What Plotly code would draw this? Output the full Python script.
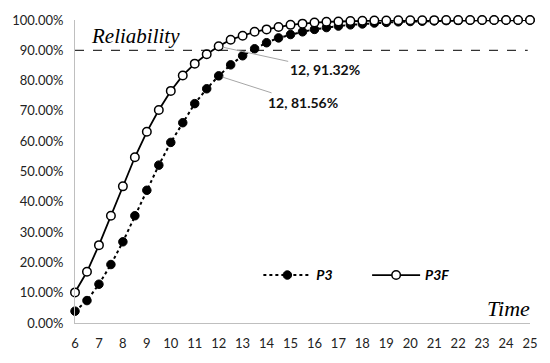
import plotly.graph_objects as go

time = [6, 6.5, 7, 7.5, 8, 8.5, 9, 9.5, 10, 10.5, 11, 11.5, 12, 12.5, 13, 13.5, 14, 14.5,
        15, 15.5, 16, 16.5, 17, 17.5, 18, 18.5, 19, 19.5, 20, 20.5, 21, 21.5, 22, 22.5,
        23, 23.5, 24, 24.5, 25]
p3 = [0.039, 0.074, 0.128, 0.193, 0.268, 0.354, 0.438, 0.521, 0.596, 0.661, 0.724, 0.773,
      0.8156, 0.852, 0.882, 0.905, 0.925, 0.941, 0.952, 0.961, 0.969, 0.975, 0.980, 0.984,
      0.987, 0.990, 0.992, 0.994, 0.995, 0.996, 0.997, 0.998, 0.9985, 0.999, 0.9992, 0.9994,
      0.9995, 0.9996, 0.9997]
p3f = [0.101, 0.169, 0.257, 0.354, 0.451, 0.547, 0.631, 0.703, 0.766, 0.817, 0.856, 0.887,
       0.9132, 0.935, 0.948, 0.961, 0.969, 0.977, 0.984, 0.988, 0.992, 0.994, 0.995, 0.9965,
       0.9975, 0.998, 0.9985, 0.999, 0.9992, 0.9994, 0.9995, 0.9996, 0.9997, 0.9998, 0.9998,
       0.9999, 0.9999, 0.9999, 1.0]
reliability = 0.9
x_ticks = list(range(6, 26))
y_ticks = [0, 0.1, 0.2, 0.3, 0.4, 0.5, 0.6, 0.7, 0.8, 0.9, 1.0]

fig = go.Figure()
fig.add_trace(go.Scatter(
    x=time, y=p3, name="<b><i>P3</i></b>", mode="lines+markers", cliponaxis=False,
    line=dict(color="black", width=2, dash="dot"),
    marker=dict(symbol="circle", size=8.5, color="black", line=dict(color="black", width=1)),
    legend="legend"))
fig.add_trace(go.Scatter(
    x=time, y=p3f, name="<b><i>P3F</i></b>", mode="lines+markers", cliponaxis=False,
    line=dict(color="black", width=1.8),
    marker=dict(symbol="circle", size=8.5, color="white", line=dict(color="black", width=1.5)),
    legend="legend2"))

fig.add_shape(type="line", xref="paper", yref="y", x0=0, x1=0.995, y0=reliability, y1=reliability,
              line=dict(color="black", width=1, dash="dash"))

fig.add_annotation(x=6.6, y=reliability, xref="x", yref="y", text="<i>Reliability</i>",
                   showarrow=False, xanchor="left", yanchor="bottom",
                   font=dict(family="Liberation Serif", size=21, color="black"))
fig.add_annotation(x=1.004, y=0.0, xref="paper", yref="paper", text="<i>Time</i>",
                   showarrow=False, xanchor="right", yanchor="bottom",
                   font=dict(family="Liberation Serif", size=22, color="black"))

ann_font = dict(family="Lato", size=14, color="#111")
fig.add_annotation(x=12, y=p3f[12], xref="x", yref="y", text="<b>12, 91.32%</b>",
                   showarrow=True, arrowhead=0, arrowwidth=1, arrowcolor="#a6a6a6",
                   ax=106, ay=23, standoff=4, font=ann_font)
fig.add_annotation(x=12, y=p3[12], xref="x", yref="y", text="<b>12, 81.56%</b>",
                   showarrow=True, arrowhead=0, arrowwidth=1, arrowcolor="#a6a6a6",
                   ax=84, ay=27, standoff=4, font=ann_font)

leg_font = dict(family="Lato", size=14, color="black")
fig.update_layout(
    width=550, height=363,
    margin=dict(l=73, r=20, t=16, b=37),
    paper_bgcolor="white", plot_bgcolor="white",
    showlegend=True,
    legend=dict(x=0.403, y=0.157, xanchor="left", yanchor="middle", orientation="h",
                itemwidth=48, font=leg_font, bgcolor="rgba(0,0,0,0)"),
    legend2=dict(x=0.642, y=0.157, xanchor="left", yanchor="middle", orientation="h",
                 itemwidth=48, font=leg_font, bgcolor="rgba(0,0,0,0)"),
    xaxis=dict(range=[6, 25], tickvals=x_ticks, showgrid=False, zeroline=False,
               showline=True, linecolor="#bfbfbf", linewidth=1, ticks="",
               ticklabelstandoff=8,
               tickfont=dict(family="Lato", size=13, color="#222")),
    yaxis=dict(range=[0, 1], tickvals=y_ticks, tickformat=".2%", showgrid=False,
               zeroline=False, showline=True, linecolor="#bfbfbf", linewidth=1, ticks="",
               ticklabelstandoff=8,
               tickfont=dict(family="Lato", size=13, color="#222")),
)

fig.write_html("out.html", config={"displayModeBar": False},
               post_script="document.body.style.margin='0';document.body.style.overflow='hidden';")
